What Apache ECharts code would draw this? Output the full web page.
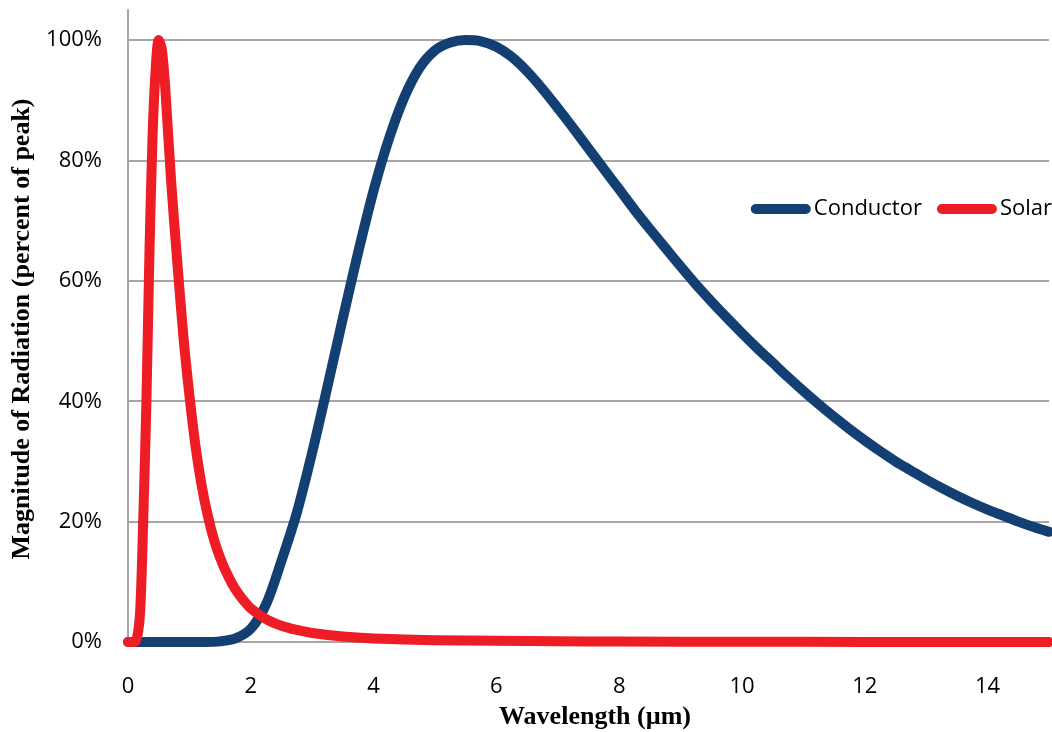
<!DOCTYPE html>
<html>
<head>
<meta charset="utf-8">
<script src="https://cdn.jsdelivr.net/npm/echarts@6/dist/echarts.min.js"></script>
<style>
html,body{margin:0;padding:0;background:#fff;}
#chart{width:1052px;height:732px;}
</style>
</head>
<body>
<div id="chart"></div>
<script>
// Wavelength (µm) and percent of peak
const conductorX = [0, 0.5,
  1.0, 1.25, 1.5, 1.75, 2.0, 2.25, 2.5, 2.75, 3.0, 3.25, 3.5, 3.75,
  4.0, 4.25, 4.5, 4.75, 5.0, 5.25, 5.5, 5.75, 6.0, 6.25, 6.5, 6.75,
  7.0, 7.25, 7.5, 7.75, 8.0, 8.25, 8.5, 8.75, 9.0, 9.25, 9.5, 9.75,
  10.0, 10.25, 10.5, 10.75, 11.0, 11.25, 11.5, 11.75, 12.0, 12.25, 12.5, 12.75,
  13.0, 13.25, 13.5, 13.75, 14.0, 14.25, 14.5, 14.75, 15.0];
const conductorY = [0, 0,
  0, 0, 0.1, 0.6, 2.2, 6.3, 13.5, 21.5, 31.5, 42.5, 53.8, 64.8,
  75.0, 83.6, 90.5, 95.4, 98.3, 99.6, 100, 99.8, 98.9, 97.2, 94.8, 91.9,
  88.7, 85.4, 82.0, 78.6, 75.2, 71.8, 68.6, 65.5, 62.4, 59.4, 56.6, 53.9,
  51.3, 48.8, 46.4, 44.0, 41.7, 39.5, 37.4, 35.4, 33.5, 31.7, 30.0, 28.5,
  27.0, 25.6, 24.3, 23.1, 22.0, 21.0, 20.0, 19.1, 18.3];
const solarX = [0, 0.1, 0.15, 0.2, 0.25, 0.3, 0.35, 0.4, 0.45, 0.5, 0.55, 0.6, 0.65, 0.7, 0.75, 0.8, 0.9, 1.0, 1.1, 1.2, 1.3, 1.4, 1.5, 1.6, 1.7, 1.8, 1.9, 2.0, 2.25, 2.5, 2.75, 3.0, 3.5, 4.0, 5.0, 6.0, 7.0, 8.0, 10.0, 12.0, 15.0];
const solarY = [0, 0, 0.8, 5.5, 21, 40, 65, 84, 95, 100, 98.5, 93, 85, 77, 70, 63.5, 51, 41, 32.5, 26, 21, 17, 14, 11.6, 9.6, 8.0, 6.7, 5.6, 3.8, 2.7, 2.0, 1.5, 0.9, 0.6, 0.3, 0.2, 0.12, 0.08, 0.04, 0.02, 0.01];
const seriesNames = ['Conductor', 'Solar'];
const yTicks = [0, 20, 40, 60, 80, 100];
const xTicks = [0, 2, 4, 6, 8, 10, 12, 14];

const pair = (xs, ys) => xs.map((x, i) => [x, ys[i]]);
const chart = echarts.init(document.getElementById('chart'), null, {renderer: 'canvas'});
const sans = 'Open Sans';
const serif = 'Liberation Serif';
const capsule = 'path://M5,0 L55,0 A5,5 0 0 1 55,10 L5,10 A5,5 0 0 1 5,0 Z';

chart.setOption({
  animation: false,
  backgroundColor: '#ffffff',
  grid: {left: 128, right: -9, top: 10, bottom: 90, containLabel: false},
  legend: {
    data: seriesNames,
    orient: 'horizontal',
    right: 0, top: 197,
    icon: capsule,
    itemWidth: 60, itemHeight: 10, itemGap: 15,
    padding: 0,
    textStyle: {fontFamily: sans, fontSize: 22, color: '#000', padding: [0, 0, 0, -2], lineHeight: 24}
  },
  xAxis: {
    type: 'value', min: 0, max: 15, interval: 2,
    axisLine: {show: true, lineStyle: {color: '#A6A6A6', width: 2}},
    axisTick: {show: false},
    splitLine: {show: false},
    axisLabel: {
      fontFamily: sans, fontSize: 22, color: '#000', margin: 34,
      formatter: v => xTicks.indexOf(v) >= 0 ? String(v) : ''
    }
  },
  yAxis: {
    type: 'value', min: 0, max: 105, interval: 20,
    axisLine: {show: true, lineStyle: {color: '#A6A6A6', width: 2}},
    axisTick: {show: false},
    splitLine: {show: true, showMaxLine: false, lineStyle: {color: '#A6A6A6', width: 2}},
    axisLabel: {
      fontFamily: sans, fontSize: 22, color: '#000', margin: 26,
      formatter: v => yTicks.indexOf(v) >= 0 ? v + '%' : ''
    }
  },
  graphic: [
    {type: 'text', x: 22, y: 329, rotation: Math.PI / 2,
     style: {text: 'Magnitude of Radiation (percent of peak)', fontFamily: serif, fontWeight: 'bold', fontSize: 26, fill: '#000', align: 'center', verticalAlign: 'middle'}},
    {type: 'text', x: 595, y: 717,
     style: {text: 'Wavelength (µm)', fontFamily: serif, fontWeight: 'bold', fontSize: 26, fill: '#000', align: 'center', verticalAlign: 'middle'}}
  ],
  series: [
    {name: seriesNames[0], type: 'line', data: pair(conductorX, conductorY), showSymbol: false, symbol: 'none',
     smooth: 0.3, color: '#133F73', lineStyle: {width: 10, color: '#133F73', cap: 'round', join: 'round'}, z: 2},
    {name: seriesNames[1], type: 'line', data: pair(solarX, solarY), showSymbol: false, symbol: 'none',
     smooth: 0.3, color: '#EE1C25', lineStyle: {width: 10, color: '#EE1C25', cap: 'round', join: 'round'}, z: 3}
  ]
});
</script>
</body>
</html>
